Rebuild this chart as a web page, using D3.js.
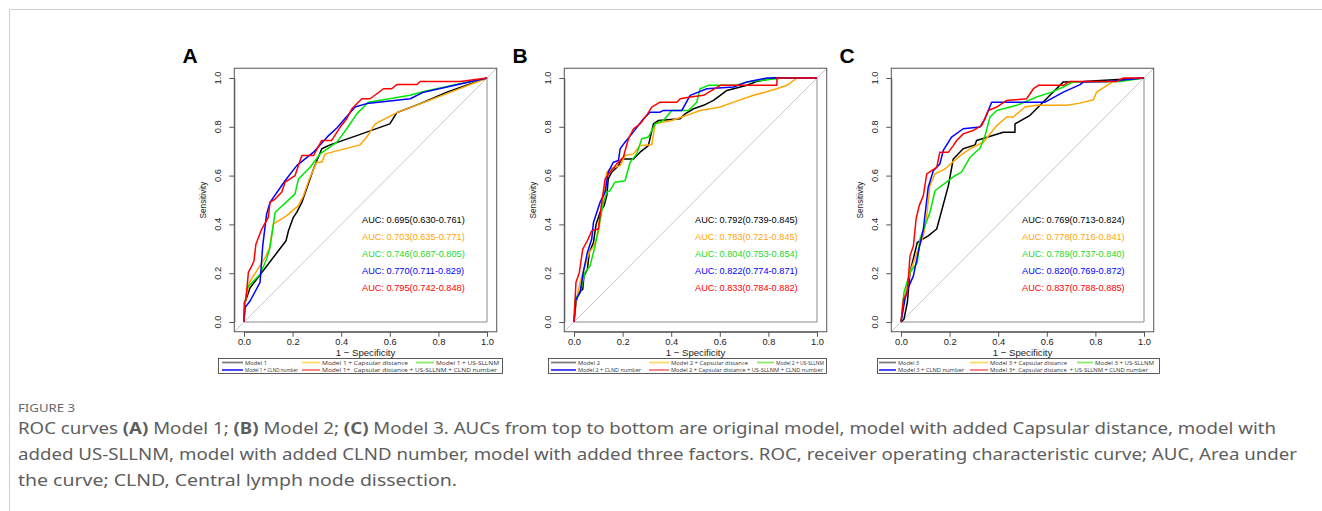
<!DOCTYPE html>
<html><head><meta charset="utf-8">
<script src="https://cdn.jsdelivr.net/npm/d3@7"></script>
<style>
html,body{margin:0;padding:0;background:#fff;}
svg{display:block;}
text{white-space:pre;}
</style></head>
<body>
<svg id="chart" width="1322" height="511"></svg>
<script>
// ---------------- DATA ----------------
const tickValues = [0, 0.2, 0.4, 0.6, 0.8, 1.0];
const panelLetters = ["A", "B", "C"];
const seriesColors = ["#000000", "#FFA500", "#00E600", "#0000FF", "#FF0000"];
const legendColors = ["#7f7f7f", "#FFD966", "#8CE86C", "#3535F5", "#F47C7C"];

const aucA = ["AUC: 0.695(0.630-0.761)", "AUC: 0.703(0.635-0.771)", "AUC: 0.746(0.687-0.805)", "AUC: 0.770(0.711-0.829)", "AUC: 0.795(0.742-0.848)"];
const aucB = ["AUC: 0.792(0.739-0.845)", "AUC: 0.783(0.721-0.845)", "AUC: 0.804(0.753-0.854)", "AUC: 0.822(0.774-0.871)", "AUC: 0.833(0.784-0.882)"];
const aucC = ["AUC: 0.769(0.713-0.824)", "AUC: 0.778(0.716-0.841)", "AUC: 0.789(0.737-0.840)", "AUC: 0.820(0.769-0.872)", "AUC: 0.837(0.788-0.885)"];

const legendA = ["Model 1", "Model 1 + Capsular distance", "Model 1 + US-SLLNM", "Model 1 + CLND number", "Model 1+  Capsular distance + US-SLLNM + CLND number"];
const legendB = ["Model 2", "Model 2 + Capsular distance", "Model 2 + US-SLLNM", "Model 2 + CLND number", "Model 2 + Capsular distance + US-SLLNM + CLND number"];
const legendC = ["Model 3", "Model 3 + Capsular distance", "Model 3 + US-SLLNM", "Model 3 + CLND number", "Model 3+  Capsular distance  + US-SLLNM + CLND number"];

// ROC points: [1 - specificity, sensitivity]
const rocA_m = [[0,0],[0.004,0.08],[0.025,0.14],[0.173,0.333],[0.183,0.374],[0.203,0.429],[0.217,0.449],[0.238,0.49],[0.286,0.627],[0.32,0.71],[0.354,0.726],[0.464,0.764],[0.60,0.812],[0.629,0.858],[0.725,0.895],[0.835,0.942],[1,1]];
const rocA_cap = [[0,0],[0.004,0.08],[0.022,0.162],[0.087,0.264],[0.104,0.30],[0.121,0.401],[0.176,0.436],[0.224,0.477],[0.245,0.518],[0.269,0.586],[0.299,0.655],[0.32,0.655],[0.334,0.689],[0.478,0.726],[0.505,0.758],[0.54,0.812],[0.629,0.858],[0.835,0.936],[1,1]];
const rocA_us = [[0,0],[0.004,0.08],[0.014,0.141],[0.066,0.196],[0.093,0.258],[0.107,0.305],[0.128,0.449],[0.21,0.525],[0.224,0.586],[0.272,0.634],[0.313,0.689],[0.382,0.737],[0.423,0.792],[0.464,0.853],[0.512,0.901],[0.684,0.929],[0.739,0.945],[1,1]];
const rocA_clnd = [[0,0],[0.004,0.059],[0.025,0.086],[0.066,0.162],[0.077,0.312],[0.093,0.442],[0.107,0.49],[0.169,0.579],[0.217,0.641],[0.286,0.696],[0.348,0.764],[0.382,0.795],[0.457,0.881],[0.505,0.895],[0.684,0.915],[0.739,0.942],[1,1]];
const rocA_all = [[0,0],[0.001,0.08],[0.008,0.093],[0.018,0.203],[0.032,0.23],[0.041,0.25],[0.049,0.319],[0.073,0.381],[0.10,0.429],[0.107,0.49],[0.128,0.504],[0.155,0.532],[0.169,0.573],[0.21,0.60],[0.238,0.682],[0.286,0.682],[0.32,0.744],[0.361,0.744],[0.396,0.799],[0.423,0.833],[0.444,0.874],[0.485,0.915],[0.519,0.915],[0.574,0.956],[0.608,0.956],[0.629,0.973],[0.712,0.973],[0.725,0.986],[0.89,0.986],[1,1]];

const rocB_m = [[0,0],[0.008,0.079],[0.018,0.12],[0.036,0.134],[0.041,0.189],[0.055,0.216],[0.063,0.285],[0.08,0.326],[0.091,0.401],[0.107,0.449],[0.124,0.477],[0.135,0.518],[0.141,0.586],[0.155,0.614],[0.183,0.641],[0.196,0.668],[0.245,0.668],[0.272,0.696],[0.306,0.723],[0.327,0.812],[0.348,0.826],[0.437,0.833],[0.457,0.853],[0.492,0.874],[0.533,0.888],[0.574,0.908],[0.602,0.929],[0.629,0.949],[0.712,0.97],[0.753,0.986],[0.821,1.0],[1,1]];
const rocB_cap = [[0,0],[0.008,0.079],[0.025,0.162],[0.045,0.23],[0.063,0.285],[0.082,0.312],[0.10,0.367],[0.114,0.463],[0.135,0.614],[0.148,0.627],[0.19,0.641],[0.21,0.682],[0.245,0.689],[0.272,0.723],[0.32,0.726],[0.334,0.812],[0.402,0.826],[0.464,0.847],[0.519,0.867],[0.602,0.881],[0.657,0.901],[0.739,0.929],[0.835,0.956],[0.876,0.97],[0.918,1.0],[1,1]];
const rocB_us = [[0,0],[0.004,0.093],[0.025,0.12],[0.045,0.203],[0.066,0.23],[0.087,0.312],[0.121,0.49],[0.135,0.532],[0.148,0.538],[0.169,0.573],[0.21,0.579],[0.231,0.655],[0.258,0.689],[0.279,0.751],[0.306,0.758],[0.334,0.812],[0.368,0.826],[0.402,0.867],[0.471,0.867],[0.505,0.901],[0.519,0.956],[0.553,0.97],[0.67,0.97],[0.712,0.984],[0.863,1.0],[1,1]];
const rocB_clnd = [[0,0],[0.008,0.093],[0.025,0.12],[0.038,0.203],[0.055,0.285],[0.073,0.34],[0.08,0.408],[0.107,0.49],[0.128,0.532],[0.141,0.614],[0.162,0.655],[0.183,0.662],[0.19,0.71],[0.21,0.737],[0.238,0.771],[0.286,0.833],[0.313,0.86],[0.354,0.86],[0.368,0.867],[0.444,0.867],[0.478,0.929],[0.547,0.956],[0.657,0.963],[0.712,0.984],[0.794,1.0],[1,1]];
const rocB_all = [[0,0],[0.008,0.162],[0.022,0.203],[0.036,0.299],[0.055,0.333],[0.073,0.374],[0.10,0.381],[0.114,0.49],[0.128,0.586],[0.148,0.614],[0.176,0.648],[0.203,0.675],[0.224,0.751],[0.245,0.792],[0.272,0.812],[0.299,0.847],[0.32,0.881],[0.354,0.901],[0.423,0.901],[0.437,0.915],[0.478,0.922],[0.533,0.929],[0.602,0.97],[0.835,0.97],[0.835,1.0],[1,1]];

const rocC_m = [[0,0],[0.012,0.011],[0.026,0.079],[0.037,0.203],[0.067,0.326],[0.112,0.353],[0.147,0.381],[0.195,0.559],[0.215,0.668],[0.256,0.71],[0.305,0.726],[0.311,0.744],[0.421,0.778],[0.469,0.778],[0.469,0.812],[0.531,0.847],[0.613,0.929],[0.668,0.984],[0.75,0.986],[1,1]];
const rocC_cap = [[0,0],[0.016,0.107],[0.037,0.203],[0.071,0.299],[0.092,0.353],[0.106,0.436],[0.119,0.559],[0.14,0.607],[0.181,0.627],[0.243,0.682],[0.284,0.71],[0.339,0.737],[0.394,0.805],[0.435,0.84],[0.462,0.84],[0.51,0.881],[0.558,0.888],[0.682,0.888],[0.737,0.897],[0.792,0.911],[0.805,0.942],[0.874,0.986],[1,1]];
const rocC_us = [[0,0],[0.012,0.121],[0.037,0.203],[0.067,0.244],[0.078,0.34],[0.119,0.449],[0.14,0.538],[0.195,0.579],[0.222,0.60],[0.249,0.614],[0.284,0.675],[0.325,0.712],[0.346,0.764],[0.366,0.84],[0.394,0.867],[0.476,0.888],[0.558,0.922],[0.62,0.942],[0.668,0.963],[0.709,0.984],[0.901,0.986],[1,1]];
const rocC_clnd = [[0,0],[0.016,0.093],[0.03,0.141],[0.051,0.189],[0.071,0.285],[0.092,0.381],[0.112,0.552],[0.133,0.62],[0.16,0.648],[0.174,0.703],[0.208,0.758],[0.256,0.792],[0.325,0.799],[0.346,0.833],[0.373,0.901],[0.476,0.901],[0.593,0.901],[0.668,0.942],[0.737,0.973],[0.75,0.984],[0.846,0.986],[1,1]];
const rocC_all = [[0,0],[0.01,0.093],[0.026,0.121],[0.037,0.271],[0.051,0.312],[0.062,0.422],[0.075,0.477],[0.092,0.518],[0.106,0.607],[0.126,0.62],[0.147,0.634],[0.16,0.696],[0.195,0.696],[0.215,0.723],[0.229,0.744],[0.256,0.771],[0.297,0.785],[0.332,0.805],[0.359,0.867],[0.394,0.881],[0.435,0.908],[0.517,0.915],[0.545,0.956],[0.565,0.97],[0.668,0.97],[0.695,0.986],[0.887,0.986],[0.915,1.0],[1,1]];

const captionTitle = "FIGURE 3";

// ---------------- LAYOUT ----------------
const svg = d3.select("#chart");
const W = 1322, H = 511;

// page frame
svg.append("line").attr("x1", 9.5).attr("x2", W).attr("y1", 9.5).attr("y2", 9.5).attr("stroke", "#cfcfcf").attr("stroke-width", 1);
svg.append("line").attr("x1", 9.5).attr("x2", 9.5).attr("y1", 9.5).attr("y2", H).attr("stroke", "#cfcfcf").attr("stroke-width", 1);

const panels = [
  {x0: 244, curves: [rocA_m, rocA_cap, rocA_us, rocA_clnd, rocA_all], auc: aucA, aucX: 0.486, legend: legendA,
   leg: {l: 218, r: 502, c1: [222, 243, 245], c2: [302, 320, 322], c3: [416, 434, 436], w: [22, 86, 63, 53, 175]}},
  {x0: 574, curves: [rocB_m, rocB_cap, rocB_us, rocB_clnd, rocB_all], auc: aucB, aucX: 0.498, legend: legendB,
   leg: {l: 548, r: 826, c1: [551, 576, 578], c2: [649, 669, 671], c3: [757, 774, 776], w: [22, 77, 48, 63, 152]}},
  {x0: 901, curves: [rocC_m, rocC_cap, rocC_us, rocC_clnd, rocC_all], auc: aucC, aucX: 0.498, legend: legendC,
   leg: {l: 877, r: 1159, c1: [879, 896, 898], c2: [970, 988, 990], c3: [1077, 1093, 1095], w: [21, 77, 59, 66, 158]}}
];

const plotW = 243, yTop = 78, yBot = 322;
const aucRows = [0.42, 0.35, 0.28, 0.21, 0.14];
const fontR = "'Liberation Sans', Arial, Helvetica, sans-serif";

panels.forEach((p, pi) => {
  const x = d3.scaleLinear().domain([0, 1]).range([p.x0, p.x0 + plotW]);
  const y = d3.scaleLinear().domain([0, 1]).range([yBot, yTop]);
  const g = svg.append("g");
  const bx0 = x(-0.04), bx1 = x(1.04), by0 = y(1.04), by1 = y(-0.04);

  // panel letter
  g.append("text").attr("x", p.x0 - 54).attr("y", 63).attr("text-anchor", "middle")
    .attr("font-family", fontR).attr("font-weight", "bold").attr("font-size", 21).attr("fill", "#000")
    .text(panelLetters[pi]);

  // diagonal (clipped to box)
  const clipId = "clip" + pi;
  svg.append("clipPath").attr("id", clipId).append("rect")
    .attr("x", bx0).attr("y", by0).attr("width", bx1 - bx0).attr("height", by1 - by0);
  g.append("line").attr("clip-path", `url(#${clipId})`)
    .attr("x1", x(-0.04)).attr("y1", y(-0.04)).attr("x2", x(1.04)).attr("y2", y(1.04))
    .attr("stroke", "#c8c8c8").attr("stroke-width", 1);

  // inner L
  g.append("path").attr("d", `M${x(0)},${y(0)}H${x(1)}V${y(1)}`)
    .attr("fill", "none").attr("stroke", "#8a8a8a").attr("stroke-width", 1);

  // curves
  const line = d3.line().x(d => x(d[0])).y(d => y(d[1]));
  p.curves.forEach((c, i) => {
    g.append("path").datum(c).attr("d", line).attr("fill", "none")
      .attr("stroke", seriesColors[i]).attr("stroke-width", 1.5).attr("stroke-linejoin", "round");
  });

  // box
  g.append("rect").attr("x", bx0).attr("y", by0).attr("width", bx1 - bx0).attr("height", by1 - by0)
    .attr("fill", "none").attr("stroke", "#555").attr("stroke-width", 1);

  // x axis
  const xa = g.append("g").attr("transform", `translate(0,${by1})`)
    .call(d3.axisBottom(x).tickValues(tickValues).tickFormat(d3.format(".1f")).tickSize(5).tickSizeOuter(0).tickPadding(1.5));
  xa.select(".domain").attr("stroke", "#555");
  xa.selectAll(".tick line").attr("stroke", "#555");
  xa.selectAll("text").attr("font-family", fontR).attr("font-size", 9.3).attr("fill", "#222");

  // y axis
  const ya = g.append("g").attr("transform", `translate(${bx0},0)`)
    .call(d3.axisLeft(y).tickValues(tickValues).tickFormat(d3.format(".1f")).tickSize(5).tickSizeOuter(0));
  ya.select(".domain").attr("stroke", "#555");
  ya.selectAll(".tick line").attr("stroke", "#555");
  ya.selectAll(".tick text").remove();
  tickValues.forEach(v => {
    g.append("text").attr("transform", `translate(${p.x0 - 26},${y(v)}) rotate(-90)`)
      .attr("text-anchor", "middle").attr("dy", "0.35em")
      .attr("font-family", fontR).attr("font-size", 9.3).attr("fill", "#222")
      .text(d3.format(".1f")(v));
  });

  // axis titles
  g.append("text").attr("transform", `translate(${p.x0 - 41},${(yTop + yBot) / 2}) rotate(-90)`)
    .attr("text-anchor", "middle").attr("dy", "0.35em")
    .attr("font-family", fontR).attr("font-size", 8.2).attr("fill", "#222").text("Sensitivity");
  g.append("text").attr("x", x(0.5)).attr("y", 355.5).attr("text-anchor", "middle")
    .attr("font-family", fontR).attr("font-size", 9.6).attr("fill", "#222").text("1 \u2212 Specificity");

  // AUC labels
  p.auc.forEach((t, i) => {
    g.append("text").attr("x", x(p.aucX)).attr("y", y(aucRows[i])).attr("dy", "0.35em")
      .attr("font-family", fontR).attr("font-size", 9.2).attr("fill", seriesColors[i] === "#00E600" ? "#1fd81f" : seriesColors[i])
      .text(t);
  });

  // legend
  const L = p.leg;
  const r1 = 362.5, r2 = 370;
  g.append("rect").attr("x", L.l + 0.5).attr("y", 358.5).attr("width", L.r - L.l).attr("height", 15)
    .attr("fill", "#fff").attr("stroke", "#333").attr("stroke-width", 0.8);
  const entries = [
    {c: L.c1, row: r1, i: 0}, {c: L.c2, row: r1, i: 1}, {c: L.c3, row: r1, i: 2},
    {c: L.c1, row: r2, i: 3}, {c: L.c2, row: r2, i: 4}
  ];
  entries.forEach(e => {
    g.append("line").attr("x1", e.c[0]).attr("x2", e.c[1]).attr("y1", e.row).attr("y2", e.row)
      .attr("stroke", legendColors[e.i]).attr("stroke-width", 1.8);
    g.append("text").attr("x", e.c[2]).attr("y", e.row).attr("dy", "0.35em")
      .attr("font-family", "'Open Sans', 'Noto Sans', sans-serif").attr("font-size", 6.1).attr("fill", "#333")
      .attr("textLength", L.w[e.i]).attr("lengthAdjust", "spacingAndGlyphs")
      .text(p.legend[e.i]);
  });
});

// ---------------- CAPTION ----------------
const capFont = "'Noto Sans', 'Open Sans', sans-serif";
svg.append("text").attr("x", 18).attr("y", 411.5).attr("font-family", capFont).attr("font-size", 11.5)
  .attr("fill", "#666").attr("textLength", 57).attr("lengthAdjust", "spacingAndGlyphs").text(captionTitle);

const capLines = [
  {y: 434, w: 1258, parts: [["ROC curves ", 0], ["(A)", 1], [" Model 1; ", 0], ["(B)", 1], [" Model 2; ", 0], ["(C)", 1], [" Model 3. AUCs from top to bottom are original model, model with added Capsular distance, model with", 0]]},
  {y: 460, w: 1279, parts: [["added US-SLLNM, model with added CLND number, model with added three factors. ROC, receiver operating characteristic curve; AUC, Area under", 0]]},
  {y: 485.5, w: 439, parts: [["the curve; CLND, Central lymph node dissection.", 0]]}
];
capLines.forEach(l => {
  const t = svg.append("text").attr("x", 18).attr("y", l.y).attr("font-family", capFont)
    .attr("font-size", 16.5).attr("fill", "#5e5e5e")
    .attr("textLength", l.w).attr("lengthAdjust", "spacingAndGlyphs");
  l.parts.forEach(pt => {
    t.append("tspan").attr("font-weight", pt[1] ? "bold" : "normal").text(pt[0]);
  });
});
</script>
</body></html>
